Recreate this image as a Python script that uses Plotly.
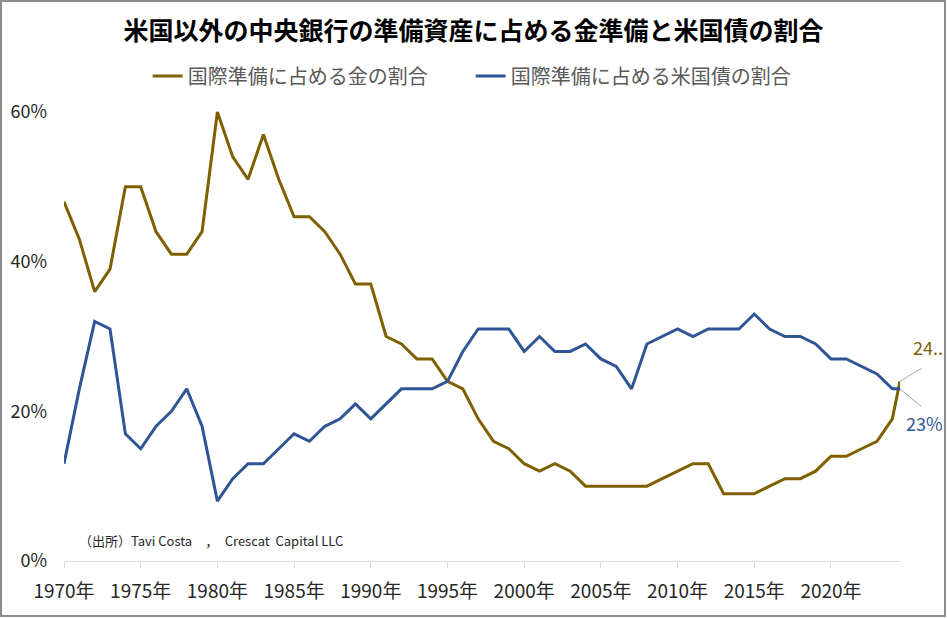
import plotly.graph_objects as go

# ---- data ----
years = list(range(1970, 2025)) + [2024.5]
gold_share = [48, 43, 36, 39, 50, 50, 44, 41, 41, 44,
              60, 54, 51, 57, 51, 46, 46, 44, 41, 37,
              37, 30, 29, 27, 27, 24, 23, 19, 16, 15,
              13, 12, 13, 12, 10, 10, 10, 10, 10, 11,
              12, 13, 13, 9, 9, 9, 10, 11, 11, 12,
              14, 14, 15, 16, 19, 24]
ust_share = [13, 23, 32, 31, 17, 15, 18, 20, 23, 18,
             8, 11, 13, 13, 15, 17, 16, 18, 19, 21,
             19, 21, 23, 23, 23, 24, 28, 31, 31, 31,
             28, 30, 28, 28, 29, 27, 26, 23, 29, 30,
             31, 30, 31, 31, 31, 33, 31, 30, 30, 29,
             27, 27, 26, 25, 23, 23]
tick_years = [1970, 1975, 1980, 1985, 1990, 1995, 2000, 2005, 2010, 2015, 2020]
tick_labels = [f"{y}年" for y in tick_years]
y_ticks = [0, 20, 40, 60]
y_tick_labels = [f"{v}%" for v in y_ticks]

title_text = "米国以外の中央銀行の準備資産に占める金準備と米国債の割合"
name_gold = "国際準備に占める金の割合"
name_ust = "国際準備に占める米国債の割合"
source_text = "（出所）Tavi Costa　，　Crescat  Capital LLC"
label_gold = "24.."
label_ust = "23%"

GOLD = "#7F6000"
BLUE = "#2F5597"
FONT = "Noto Sans CJK JP"

fig = go.Figure()
fig.add_trace(go.Scatter(x=years, y=gold_share, mode="lines", name=name_gold,
                         line=dict(color=GOLD, width=3), hoverinfo="x+y"))
fig.add_trace(go.Scatter(x=years, y=ust_share, mode="lines", name=name_ust,
                         line=dict(color=BLUE, width=3), hoverinfo="x+y"))

W, H = 947, 618
L, R, T, B = 64, 47, 100, 57

fig.update_layout(
    width=W, height=H,
    margin=dict(l=L, r=R, t=T, b=B, autoexpand=False),
    paper_bgcolor="white", plot_bgcolor="white",
    font=dict(family=FONT, color="#262626"),
    title=dict(text=f"<b>{title_text}</b>", x=0.5, xanchor="center",
               y=1 - 31 / H, yanchor="middle", yref="container",
               font=dict(size=25, color="#000000", family=FONT)),
    legend=dict(orientation="h", x=0.497, xanchor="center", xref="container",
                y=1 - 76 / H, yanchor="middle", yref="container",
                font=dict(size=20, color="#595959", family=FONT),
                itemwidth=30, entrywidth=278, entrywidthmode="pixels",
                traceorder="normal", tracegroupgap=0,
                bgcolor="rgba(0,0,0,0)"),
    showlegend=True,
    xaxis=dict(range=[1970, 2024.5], tickmode="array", tickvals=tick_years,
               ticktext=tick_labels, showgrid=False, zeroline=False,
               showline=True, linecolor="#D9D9D9", linewidth=1,
               ticks="outside", ticklen=6, tickcolor="#D9D9D9",
               tickfont=dict(size=19, color="#262626", family=FONT),
               ticklabelstandoff=7),
    yaxis=dict(range=[0, 61.6], tickmode="array", tickvals=y_ticks,
               ticktext=y_tick_labels, showgrid=False, zeroline=False,
               showline=False, ticks="",
               tickfont=dict(size=18, color="#262626", family=FONT),
               ticklabelstandoff=16),
)

# leader lines from the last point to its data labels (annotations are not clipped)
last_x = years[-1]
for val, dy in ((gold_share[-1], -14), (ust_share[-1], 19)):
    fig.add_annotation(x=last_x, y=val, xref="x", yref="y", text="",
                       showarrow=True, arrowhead=0, arrowwidth=1,
                       arrowcolor="#A6A6A6", ax=23, ay=dy,
                       standoff=0, startstandoff=0)

fig.add_annotation(x=last_x, y=gold_share[-1], xref="x", yref="y", text=label_gold,
                   showarrow=False, xanchor="left", yanchor="middle",
                   xshift=11, yshift=34, font=dict(size=18, color=GOLD, family=FONT))
fig.add_annotation(x=last_x, y=ust_share[-1], xref="x", yref="y", text=label_ust,
                   showarrow=False, xanchor="left", yanchor="middle",
                   xshift=4, yshift=-34, font=dict(size=18, color=BLUE, family=FONT))

# source note
fig.add_annotation(xref="paper", yref="paper", x=(77 - L) / (W - L - R),
                   y=(H - B - 540) / (H - T - B), text=source_text, showarrow=False,
                   xanchor="left", yanchor="middle",
                   font=dict(size=13, color="#262626", family=FONT))

# outer frame
pw, ph = W - L - R, H - T - B
fig.add_shape(type="rect", xref="paper", yref="paper", layer="above",
              x0=(1 - L) / pw, x1=(945 - L) / pw,
              y0=(H - B - 616) / ph, y1=(H - B - 1) / ph,
              line=dict(color="#8C8C8C", width=2), fillcolor="rgba(0,0,0,0)")

fig.write_html("out.html")
